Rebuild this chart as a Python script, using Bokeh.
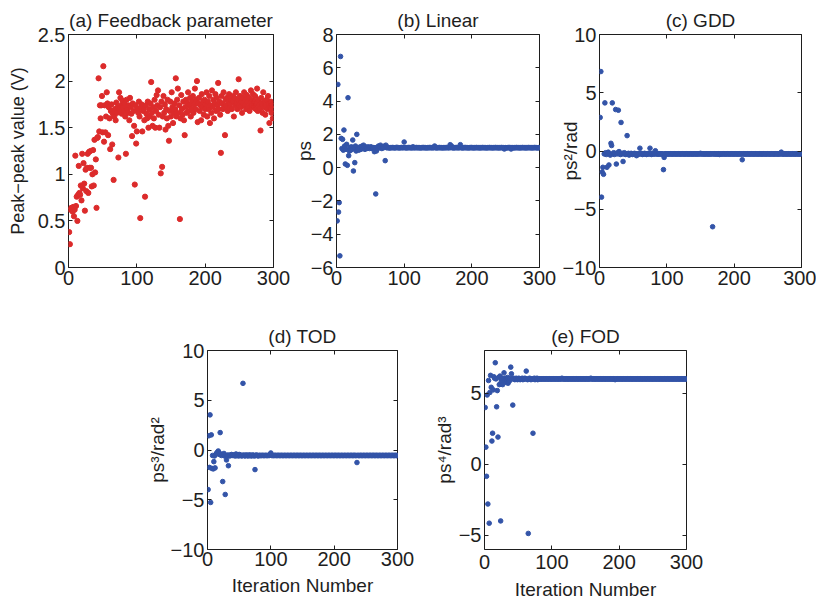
from bokeh.plotting import figure
from bokeh.layouts import row, column, Spacer
from bokeh.models import Range1d, FixedTicker, LinearAxis
from bokeh.embed import file_html
from bokeh.resources import INLINE

FONT = "Liberation Sans"
RED = "#DC2B2B"
BLUE = "#3354A8"
INK = "#1e1e1e"

# ---------------- data ----------------
iterations = list(range(1, 301))

feedback = [
    0.38, 0.25, 0.62, 0.64, 0.63, 0.60, 0.65, 0.55, 0.62, 1.20,
    0.66, 0.76, 0.50, 0.78, 1.09, 0.80, 0.78, 0.88, 0.72, 1.22,
    0.85, 1.12, 0.90, 0.61, 1.05, 0.82, 1.07, 1.22, 0.80, 1.24,
    1.07, 1.25, 1.07, 0.87, 1.00, 1.26, 0.88, 1.37, 1.02, 1.16,
    0.64, 1.39, 1.40, 2.03, 1.46, 1.74, 1.60, 1.74, 1.84, 1.45,
    2.16, 1.35, 1.74, 1.45, 1.62, 1.88, 1.76, 1.42, 1.72, 1.60,
    1.27, 1.68, 1.75, 1.32, 1.65, 0.94, 1.62, 1.70, 1.58, 1.77,
    1.66, 1.72, 1.18, 1.88, 1.70, 1.82, 1.74, 1.65, 1.79, 1.72,
    1.68, 1.76, 1.62, 1.22, 1.80, 1.70, 1.66, 1.74, 1.58, 1.82,
    1.72, 1.65, 1.41, 1.76, 1.68, 1.52, 0.89, 1.74, 1.33, 1.46,
    1.70, 1.66, 1.78, 1.62, 0.53, 1.72, 1.75, 1.46, 1.68, 1.70,
    1.58, 0.76, 1.74, 1.65, 1.60, 1.78, 1.50, 1.70, 1.62, 1.76,
    1.99, 1.66, 1.52, 1.72, 1.60, 1.80, 1.50, 1.68, 1.85, 1.74,
    1.90, 1.64, 1.50, 1.72, 1.01, 1.78, 1.08, 1.62, 1.84, 1.66,
    1.75, 1.48, 1.70, 1.60, 1.80, 1.52, 1.36, 1.68, 1.78, 1.62,
    1.88, 1.72, 1.55, 1.66, 1.76, 1.70, 2.03, 1.62, 1.80, 1.92,
    1.66, 1.74, 0.52, 1.60, 1.85, 1.70, 1.64, 1.78, 1.58, 1.42,
    1.72, 1.80, 1.66, 1.76, 1.88, 1.68, 1.74, 1.82, 1.62, 1.70,
    1.78, 1.84, 1.66, 1.75, 1.92, 1.70, 1.80, 2.00, 1.56, 1.76,
    1.82, 1.68, 1.74, 1.58, 1.86, 1.72, 1.78, 1.64, 1.80, 1.70,
    1.75, 1.88, 1.62, 1.78, 1.70, 1.84, 1.55, 1.74, 1.66, 1.90,
    1.72, 1.80, 1.60, 1.76, 1.86, 1.68, 1.82, 1.74, 1.98, 1.70,
    1.78, 1.64, 1.23, 1.84, 1.76, 1.70, 1.88, 1.72, 1.42, 1.80,
    1.74, 1.82, 1.68, 1.78, 1.86, 1.72, 1.76, 1.80, 1.70, 1.84,
    1.78, 1.62, 1.82, 1.74, 1.88, 1.76, 1.70, 1.80, 2.02, 1.74,
    1.84, 1.72, 1.78, 1.66, 1.82, 1.76, 1.88, 1.74, 1.80, 1.70,
    1.85, 1.78, 1.72, 1.82, 1.68, 1.76, 1.90, 1.74, 1.80, 1.86,
    1.72, 1.78, 1.84, 1.70, 1.76, 1.92, 1.68, 1.80, 1.74, 1.70,
    1.47, 1.82, 1.76, 1.66, 1.88, 1.72, 1.78, 1.64, 1.74, 1.80,
    1.70, 1.84, 1.76, 1.55, 1.72, 1.78, 1.66, 1.74, 1.60, 1.70,
]

linear = [
    -3.20, 5.00, -2.67, -2.10, -5.30, 6.68, 1.76, 1.15, 1.70, 1.05,
    2.26, 1.30, 0.22, 1.10, 1.40, 0.14, 4.20, 0.72, 1.00, 1.20,
    1.05, 1.25, 1.10, 1.66, -0.20, 1.20, 0.30, 1.30, 1.00, 2.00,
    1.10, 1.20, 1.05, 1.15, 1.25, 1.10, 1.20, 1.30, 1.15, 1.35,
    1.20, 1.10, 1.25, 1.20, 1.15, 1.20, 1.25, 1.20, 1.15, 1.20,
    1.25, 1.20, 1.15, 1.20, 1.20, 0.96, 1.20, -1.58, 1.00, 1.20,
    1.15, 1.30, 1.20, 1.25, 1.35, 1.20, 1.15, 1.20, 1.25, 1.20,
    1.30, 0.42, 1.35, 1.20, 1.20, 1.22, 1.20, 1.18, 1.20, 1.20,
    1.20, 1.20, 1.21, 1.20, 1.20, 1.19, 1.20, 1.20, 1.22, 1.20,
    1.20, 1.20, 1.19, 1.20, 1.20, 1.21, 1.20, 1.20, 1.20, 1.54,
    1.20, 1.20, 1.19, 1.20, 1.20, 1.20, 1.21, 1.20, 1.20, 1.20,
    1.20, 1.19, 1.25, 1.20, 1.20, 1.20, 1.20, 1.21, 1.20, 1.20,
    1.20, 1.20, 1.20, 1.19, 1.20, 1.20, 1.20, 1.21, 1.20, 1.20,
    1.20, 1.20, 1.19, 1.20, 1.20, 1.20, 1.20, 1.21, 1.20, 1.20,
    1.20, 1.20, 1.20, 1.20, 1.30, 1.20, 1.20, 1.19, 1.20, 1.20,
    1.20, 1.21, 1.20, 1.20, 1.20, 1.20, 1.19, 1.20, 1.20, 1.20,
    1.20, 1.20, 1.21, 1.20, 1.20, 1.20, 1.20, 1.38, 1.20, 1.30,
    1.20, 1.20, 1.19, 1.20, 1.20, 1.20, 1.21, 1.20, 1.20, 1.20,
    1.20, 1.20, 1.38, 1.20, 1.20, 1.19, 1.20, 1.20, 1.20, 1.21,
    1.20, 1.20, 1.20, 1.20, 1.19, 1.20, 1.20, 1.20, 1.21, 1.20,
    1.20, 1.20, 1.19, 1.20, 1.20, 1.20, 1.21, 1.20, 1.20, 1.20,
    1.20, 1.19, 1.20, 1.20, 1.20, 1.21, 1.20, 1.20, 1.20, 1.20,
    1.20, 1.19, 1.20, 1.20, 1.20, 1.21, 1.20, 1.20, 1.20, 1.20,
    1.19, 1.20, 1.20, 1.20, 1.21, 1.20, 1.20, 1.20, 1.20, 1.19,
    1.20, 1.20, 1.20, 1.21, 1.20, 1.20, 1.20, 1.12, 1.20, 1.20,
    1.19, 1.20, 1.20, 1.20, 1.21, 1.20, 1.20, 1.12, 1.20, 1.20,
    1.20, 1.19, 1.20, 1.20, 1.20, 1.21, 1.20, 1.20, 1.20, 1.20,
    1.19, 1.20, 1.20, 1.20, 1.21, 1.20, 1.20, 1.20, 1.20, 1.19,
    1.20, 1.20, 1.20, 1.21, 1.20, 1.20, 1.20, 1.20, 1.19, 1.20,
    1.20, 1.20, 1.21, 1.20, 1.20, 1.20, 1.19, 1.20, 1.20, 1.20,
]

gdd = [
    2.88, 6.82, -3.96, -1.80, -1.40, -2.00, -0.25, 4.13, -0.15, -0.30,
    -1.40, -0.20, -0.10, -1.20, -0.25, -0.35, 0.66, 0.47, 4.13, -0.25,
    -0.15, -0.30, -0.20, 3.56, -1.12, -0.25, -0.15, 3.50, -0.05, -0.25,
    -0.30, 2.45, -0.25, -0.20, -0.90, -0.25, -0.15, -0.25, -0.30, -0.25,
    1.32, -0.25, -0.20, -0.35, -0.25, -0.25, -0.20, -0.25, -0.30, -0.25,
    -0.25, -0.20, -0.25, -0.25, -0.40, -0.25, -0.30, -0.25, -0.25, 0.24,
    -0.25, -0.20, -0.25, -0.30, -0.25, -0.25, -0.20, -0.25, -0.25, -0.30,
    -0.25, -0.25, -0.20, -0.25, 0.24, -0.25, -0.30, -0.25, -0.20, -0.25,
    -0.25, -0.25, 0.02, -0.25, -0.24, -0.25, -0.26, -0.25, -0.25, -0.24,
    -0.25, -0.25, -0.26, -0.25, -1.60, -0.55, -0.25, -0.24, -0.25, -0.25,
    -0.25, -0.26, -0.25, -0.25, -0.24, -0.25, -0.25, -0.26, -0.25, -0.25,
    -0.24, -0.25, -0.25, -0.26, -0.25, -0.25, -0.24, -0.25, -0.25, -0.26,
    -0.25, -0.25, -0.24, -0.25, -0.25, -0.26, -0.25, -0.25, -0.24, -0.25,
    -0.25, -0.26, -0.25, -0.25, -0.24, -0.25, -0.25, -0.26, -0.25, -0.25,
    -0.24, -0.25, -0.25, -0.26, -0.25, -0.25, -0.24, -0.25, -0.25, -0.20,
    -0.25, -0.25, -0.24, -0.25, -0.25, -0.26, -0.25, -0.25, -0.24, -0.25,
    -0.25, -0.26, -0.25, -0.25, -0.24, -0.25, -0.25, -6.50, -0.25, -0.25,
    -0.24, -0.25, -0.25, -0.26, -0.25, -0.25, -0.24, -0.30, -0.25, -0.25,
    -0.26, -0.25, -0.25, -0.24, -0.25, -0.25, -0.26, -0.25, -0.25, -0.24,
    -0.25, -0.25, -0.26, -0.25, -0.25, -0.24, -0.25, -0.25, -0.26, -0.25,
    -0.25, -0.24, -0.25, -0.25, -0.26, -0.25, -0.25, -0.24, -0.25, -0.25,
    -0.26, -0.75, -0.25, -0.24, -0.25, -0.25, -0.26, -0.25, -0.25, -0.24,
    -0.25, -0.25, -0.26, -0.25, -0.25, -0.24, -0.25, -0.25, -0.26, -0.25,
    -0.25, -0.24, -0.25, -0.25, -0.26, -0.25, -0.25, -0.24, -0.25, -0.25,
    -0.26, -0.25, -0.25, -0.24, -0.25, -0.25, -0.26, -0.25, -0.25, -0.24,
    -0.25, -0.25, -0.26, -0.25, -0.25, -0.24, -0.25, -0.25, -0.26, -0.25,
    -0.25, -0.24, -0.25, -0.25, -0.26, -0.25, -0.25, -0.24, -0.25, -0.10,
    -0.25, -0.26, -0.25, -0.25, -0.24, -0.25, -0.25, -0.26, -0.25, -0.25,
    -0.24, -0.25, -0.25, -0.26, -0.25, -0.25, -0.24, -0.25, -0.25, -0.26,
    -0.25, -0.25, -0.24, -0.25, -0.25, -0.26, -0.25, -0.25, -0.24, -0.25,
]

tod = [
    -3.98, 1.43, -1.75, 3.53, -5.27, 1.52, -1.85, -0.55, -1.90, -1.17,
    -0.60, -1.80, -0.45, -0.35, -0.30, -0.20, -0.10, -0.30, -0.45, 1.75,
    -0.40, -0.55, -0.45, -3.17, -0.50, -0.35, -0.60, -4.47, -0.55, -1.00,
    -0.60, -0.50, -1.58, -0.55, -0.60, -0.50, -0.55, -0.45, -0.55, -0.50,
    -0.55, -0.50, -0.55, -0.60, -0.40, -0.55, -0.50, -0.55, -0.60, -0.45,
    -0.55, -0.50, -0.55, -0.60, -0.55, 6.70, -0.50, -0.55, -0.60, -0.55,
    -0.50, -0.55, -0.55, -0.60, -0.50, -0.55, -0.55, -0.50, -0.60, -0.55,
    -0.55, -0.50, -0.55, -0.60, -1.97, -0.55, -0.50, -0.55, -0.55, -0.60,
    -0.55, -0.54, -0.55, -0.56, -0.55, -0.55, -0.54, -0.55, -0.56, -0.55,
    -0.55, -0.54, -0.55, -0.56, -0.55, -0.55, -0.54, -0.55, -0.45, -0.30,
    -0.55, -0.54, -0.55, -0.56, -0.55, -0.55, -0.54, -0.55, -0.56, -0.55,
    -0.55, -0.54, -0.55, -0.56, -0.55, -0.55, -0.54, -0.55, -0.56, -0.55,
    -0.55, -0.54, -0.55, -0.56, -0.55, -0.55, -0.54, -0.55, -0.56, -0.55,
    -0.55, -0.54, -0.55, -0.56, -0.55, -0.55, -0.54, -0.55, -0.56, -0.55,
    -0.55, -0.54, -0.55, -0.56, -0.55, -0.55, -0.54, -0.55, -0.56, -0.55,
    -0.55, -0.54, -0.55, -0.56, -0.55, -0.55, -0.54, -0.55, -0.56, -0.55,
    -0.55, -0.54, -0.55, -0.56, -0.55, -0.55, -0.54, -0.55, -0.56, -0.55,
    -0.55, -0.54, -0.55, -0.56, -0.55, -0.55, -0.54, -0.55, -0.56, -0.55,
    -0.55, -0.54, -0.55, -0.56, -0.55, -0.55, -0.54, -0.55, -0.56, -0.55,
    -0.55, -0.54, -0.55, -0.56, -0.55, -0.55, -0.54, -0.55, -0.56, -0.55,
    -0.55, -0.54, -0.55, -0.56, -0.55, -0.55, -0.54, -0.55, -0.56, -0.55,
    -0.55, -0.54, -0.55, -0.56, -0.55, -0.55, -0.54, -0.55, -0.56, -0.55,
    -0.55, -0.54, -0.55, -0.56, -0.55, -0.55, -0.54, -0.55, -0.56, -0.55,
    -0.55, -0.54, -0.55, -0.56, -0.55, -1.26, -0.54, -0.55, -0.56, -0.55,
    -0.55, -0.54, -0.55, -0.56, -0.55, -0.55, -0.54, -0.55, -0.56, -0.55,
    -0.55, -0.54, -0.55, -0.56, -0.55, -0.55, -0.54, -0.55, -0.56, -0.55,
    -0.55, -0.54, -0.55, -0.56, -0.55, -0.55, -0.54, -0.55, -0.56, -0.55,
    -0.55, -0.54, -0.55, -0.56, -0.55, -0.55, -0.54, -0.55, -0.56, -0.55,
    -0.55, -0.54, -0.55, -0.56, -0.55, -0.55, -0.54, -0.55, -0.56, -0.55,
    -0.55, -0.54, -0.55, -0.56, -0.55, -0.55, -0.54, -0.55, -0.56, -0.55,
]

fod = [
    3.99, 1.20, -0.85, 4.87, -2.80, 5.89, -4.15, 5.05, 6.25, 5.41,
    1.63, 2.18, 5.23, 6.15, 6.05, 7.14, 6.00, 4.04, 5.18, 1.91,
    6.10, 5.60, 6.20, -3.99, 5.80, 6.05, 5.60, 6.00, 6.43, 6.05,
    5.90, 6.00, 5.75, 6.10, 5.70, 6.00, 5.85, 6.05, 6.83, 6.36,
    6.00, 4.16, 6.05, 6.00, 5.95, 6.00, 6.05, 6.00, 5.95, 6.00,
    6.05, 6.00, 5.95, 6.00, 6.00, 6.05, 5.95, 6.00, 6.00, 6.05,
    6.00, 6.55, 6.00, 5.95, -4.87, 6.00, 6.05, 6.00, 5.95, 6.00,
    6.00, 2.18, 6.00, 6.05, 5.95, 6.00, 6.00, 6.05, 5.95, 6.00,
    6.00, 6.01, 6.00, 5.99, 6.00, 6.00, 6.01, 6.00, 5.99, 6.00,
    6.00, 6.01, 6.00, 5.99, 6.00, 6.00, 6.01, 6.00, 5.99, 6.00,
    6.00, 6.01, 6.00, 5.99, 6.00, 6.00, 6.01, 6.00, 5.99, 6.00,
    6.00, 6.01, 6.00, 5.99, 6.05, 6.00, 6.01, 6.00, 5.99, 6.00,
    6.00, 6.01, 6.00, 5.99, 6.00, 6.00, 6.01, 6.00, 5.99, 6.00,
    6.00, 6.01, 6.00, 5.99, 6.00, 6.00, 6.01, 6.00, 5.99, 6.00,
    6.00, 6.01, 6.00, 5.99, 6.00, 6.00, 6.01, 6.00, 5.99, 6.00,
    6.00, 6.01, 6.00, 5.99, 6.00, 6.00, 6.01, 6.05, 5.99, 6.00,
    6.00, 6.01, 6.00, 5.99, 6.00, 6.00, 6.01, 6.00, 5.99, 6.00,
    6.00, 6.01, 6.00, 5.99, 6.00, 6.00, 6.01, 6.00, 5.99, 6.00,
    6.00, 6.01, 6.00, 5.99, 6.00, 6.00, 6.01, 6.00, 5.99, 6.00,
    6.00, 6.01, 6.00, 5.95, 6.00, 6.00, 6.01, 6.00, 5.99, 6.00,
    6.00, 6.01, 6.00, 5.99, 6.00, 6.00, 6.01, 6.00, 5.99, 6.00,
    6.00, 6.01, 6.00, 5.99, 6.00, 6.00, 6.01, 6.00, 5.99, 6.00,
    6.00, 6.01, 6.00, 5.99, 6.00, 6.00, 6.01, 6.00, 5.99, 6.00,
    6.00, 6.01, 6.00, 5.99, 6.00, 6.00, 6.01, 6.00, 5.99, 6.00,
    6.00, 6.01, 6.00, 5.99, 6.00, 6.00, 6.01, 6.00, 5.99, 6.00,
    6.00, 6.01, 6.00, 5.99, 6.00, 6.00, 6.01, 6.00, 5.99, 6.00,
    6.00, 6.01, 6.00, 5.99, 6.00, 6.00, 6.01, 6.00, 5.99, 6.00,
    6.00, 6.01, 6.00, 5.99, 6.00, 6.00, 6.01, 6.00, 5.99, 6.00,
    6.00, 6.01, 6.00, 5.99, 6.00, 6.00, 6.01, 6.00, 5.99, 6.00,
    6.00, 6.01, 6.00, 5.99, 6.00, 6.00, 6.01, 6.00, 5.99, 6.00,
]

x_ticks = [0, 100, 200, 300]
x_tick_labels = ["0", "100", "200", "300"]

a_ticks = [0, 0.5, 1, 1.5, 2, 2.5]
a_labels = ["0", "0.5", "1", "1.5", "2", "2.5"]
b_ticks = [-6, -4, -2, 0, 2, 4, 6, 8]
b_labels = ["\u22126", "\u22124", "\u22122", "0", "2", "4", "6", "8"]
cd_ticks = [-10, -5, 0, 5, 10]
cd_labels = ["\u221210", "\u22125", "0", "5", "10"]
e_ticks = [-5, 0, 5]
e_labels = ["\u22125", "0", "5"]


def style_axis(ax, ticks, labels, size="20px", standoff=3):
    ax.ticker = FixedTicker(ticks=ticks)
    ax.major_label_overrides = {t: l for t, l in zip(ticks, labels)}
    ax.major_label_text_font = FONT
    ax.major_label_text_font_size = size
    ax.major_label_text_color = INK
    ax.major_label_standoff = standoff
    ax.major_tick_in = 4
    ax.major_tick_out = 0
    ax.major_tick_line_color = INK
    ax.minor_tick_line_color = None
    ax.axis_line_color = None
    ax.axis_label_text_font = FONT
    ax.axis_label_text_font_style = "normal"
    ax.axis_label_text_color = INK


def mirror_axis(ticks):
    ax = LinearAxis(ticker=FixedTicker(ticks=ticks))
    ax.major_label_overrides = {t: "" for t in ticks}
    ax.major_label_text_font_size = "0px"
    ax.major_label_standoff = 0
    ax.major_tick_in = 4
    ax.major_tick_out = 0
    ax.major_tick_line_color = INK
    ax.minor_tick_line_color = None
    ax.axis_line_color = None
    return ax


def panel(width, height, bl, br, bt, bb, y0, y1, yt, yl, title, ylabel,
          ylab_standoff, ylab_size="19px", xlabel=None, xlab_standoff=0,
          x_standoff=3):
    p = figure(width=width, height=height, output_backend="svg",
               toolbar_location=None, x_range=Range1d(0, 300),
               y_range=Range1d(y0, y1), min_border_left=bl,
               min_border_right=br, min_border_top=bt, min_border_bottom=bb,
               title=title)
    p.background_fill_color = "white"
    p.border_fill_color = "white"
    p.outline_line_color = INK
    p.outline_line_width = 1
    p.xgrid.visible = False
    p.ygrid.visible = False
    p.title.align = "center"
    p.title.text_font = FONT
    p.title.text_font_size = "19px"
    p.title.text_font_style = "normal"
    p.title.text_color = INK
    p.title.standoff = 7
    style_axis(p.xaxis[0], x_ticks, x_tick_labels, standoff=x_standoff)
    style_axis(p.yaxis[0], yt, yl)
    p.yaxis[0].axis_label = ylabel
    p.yaxis[0].axis_label_text_font_size = ylab_size
    p.yaxis[0].axis_label_standoff = ylab_standoff
    if xlabel:
        p.xaxis[0].axis_label = xlabel
        p.xaxis[0].axis_label_text_font_size = "19px"
        p.xaxis[0].axis_label_standoff = xlab_standoff
    p.add_layout(mirror_axis(yt), "right")
    p.add_layout(mirror_axis(x_ticks), "above")
    return p


pa = panel(290, 300, 68, 17, 32, 29, 0, 2.5, a_ticks, a_labels,
           "(a) Feedback parameter", "Peak\u2212peak value (V)", 7, "18px")
pa.scatter(iterations, feedback, size=5.2, color=RED, marker="circle")

pb = panel(266, 300, 42, 17, 34, 32, -6, 8, b_ticks, b_labels,
           "(b) Linear", "ps", -7)
pb.scatter(iterations, linear, size=4.6, color=BLUE, marker="circle")

pc = panel(260, 300, 39, 15, 32, 33, -10, 10, cd_ticks, cd_labels,
           "(c) GDD", "ps\u00b2/rad", -21)
pc.scatter(iterations, gdd, size=4.6, color=BLUE, marker="circle")

pd = panel(287, 303, 60, 33, 50, 47, -10, 10, cd_ticks, cd_labels,
           "(d) TOD", "ps\u00b3/rad\u00b2", 0, xlabel="Iteration Number",
           xlab_standoff=6, x_standoff=2)
pd.scatter(iterations, tod, size=4.6, color=BLUE, marker="circle")

pe = panel(276, 303, 50, 20, 50, 54, -6, 8, e_ticks, e_labels,
           "(e) FOD", "ps\u2074/rad\u00b3", 1, xlabel="Iteration Number",
           xlab_standoff=7, x_standoff=5)
pe.scatter(iterations, fod, size=4.6, color=BLUE, marker="circle")

layout = column(row(pa, pb, pc),
                row(Spacer(width=143, height=303), pd, pe))

open("out.html", "w").write(file_html(layout, INLINE))
